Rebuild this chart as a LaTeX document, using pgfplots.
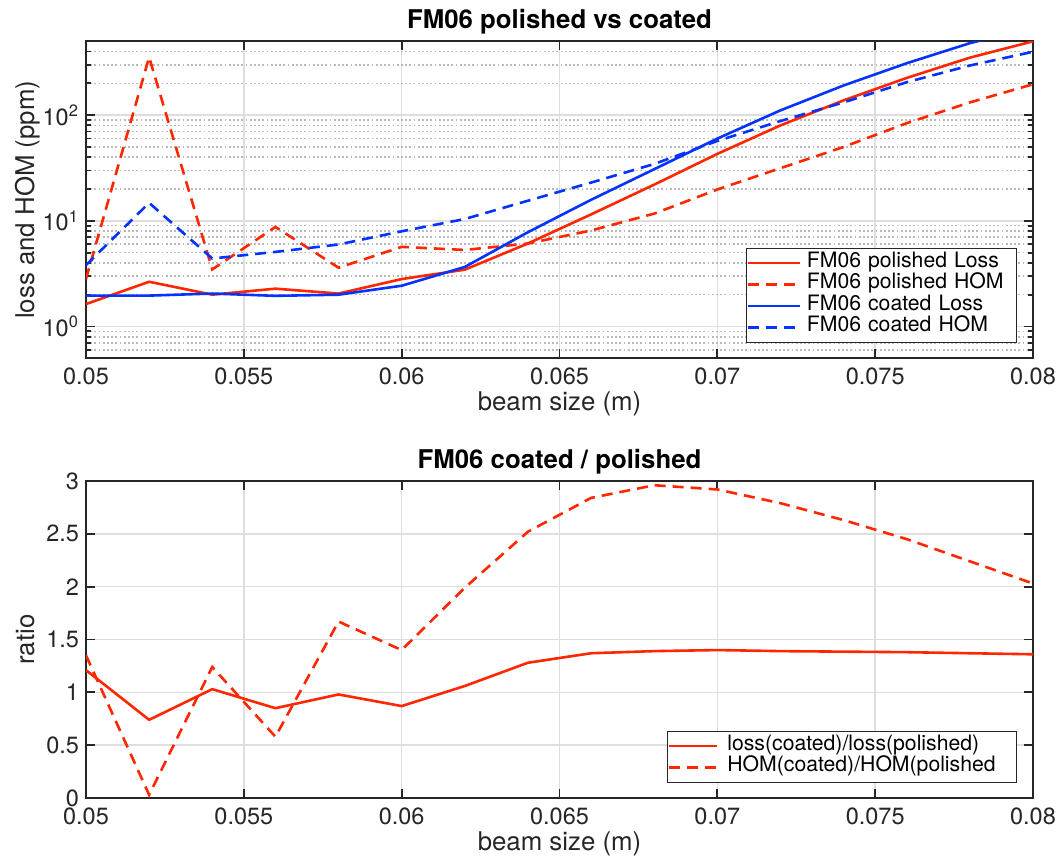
\documentclass[border=0pt]{standalone}
\usepackage{fontspec}
\setmainfont{TeX Gyre Heros}
\usepackage{pgfplots}
\pgfplotsset{compat=1.18}
\usepackage{pgfplotstable}

\definecolor{lred}{RGB}{255,38,0}
\definecolor{lblue}{RGB}{4,51,255}
\definecolor{axgray}{RGB}{38,38,38}
\definecolor{gridmaj}{RGB}{222,222,222}
\definecolor{gridmin}{RGB}{185,185,185}

% loss and HOM (ppm) versus beam size (m)
\pgfplotstableread{
x     pL    pH    cL    cH
0.050 1.63  2.82  1.96  3.81
0.052 2.65  354   1.96  14.8
0.054 2.00  3.47  2.05  4.40
0.056 2.28  8.75  1.95  5.08
0.058 2.05  3.60  2.00  5.97
0.060 2.81  5.67  2.43  7.96
0.062 3.45  5.30  3.66  10.4
0.064 6.10  6.10  7.80  15.5
0.066 11.5  8.10  15.8  23.0
0.068 22.0  11.7  30.8  34.5
0.070 43.0  19.8  60.0  57.0
0.072 80.0  31.5  111   88.0
0.074 138   50.0  191   132
0.076 225   84.0  310   205
0.078 350   132   480   295
0.080 500   196   680   398
}\lossdata

% coated / polished ratios
\pgfplotstableread{
x     rL     rH
0.050 1.21   1.35
0.052 0.74   0.03
0.054 1.03   1.24
0.056 0.85   0.58
0.058 0.98   1.67
0.060 0.87   1.40
0.062 1.06   1.99
0.064 1.28   2.52
0.066 1.37   2.84
0.068 1.39   2.96
0.070 1.40   2.92
0.072 1.39   2.79
0.074 1.385  2.63
0.076 1.38   2.45
0.078 1.37   2.24
0.080 1.36   2.03
}\ratiodata

\pgfplotsset{
  fmaxis/.style={
    scale only axis, width=473.5pt, height=158.5pt,
    xmin=0.05, xmax=0.08,
    xtick={0.05,0.055,0.06,0.065,0.07,0.075,0.08},
    xticklabels={0.05,0.055,0.06,0.065,0.07,0.075,0.08},
    scaled x ticks=false,
    axis line style={axgray, line width=0.9pt},
    tick style={axgray, line width=0.9pt},
    major tick length=4.5pt, minor tick length=2.6pt,
    tick align=inside,
    xmajorgrids, ymajorgrids,
    major grid style={gridmaj, line width=0.8pt},
    tick label style={font=\fontsize{11.75}{14}\selectfont, text=axgray},
    xticklabel style={anchor=base, yshift=-13pt},
    every axis x label/.style={at={(axis description cs:0.5,0)}, anchor=base,
      yshift=-26pt, font=\fontsize{12.9}{15}\selectfont, text=axgray},
    every axis y label/.style={at={(axis description cs:-0.0549,0.5)}, anchor=base,
      rotate=90, font=\fontsize{12.9}{15}\selectfont, text=axgray},
    every axis title/.style={at={(axis description cs:0.5,1)}, anchor=base,
      yshift=6.3pt, font=\bfseries\fontsize{12.9}{15}\selectfont},
    legend cell align=left,
  },
}

\begin{document}
\begin{tikzpicture}

% upper panel: loss and HOM, log scale
\begin{axis}[fmaxis,
  at={(43pt,249.35pt)}, anchor=south west,
  ymode=log, ymin=0.5, ymax=500,
  ytick={1,10,100},
  yticklabels={10\textsuperscript{0},10\textsuperscript{1},10\textsuperscript{2}},
  minor ytick={0.6,0.7,0.8,0.9,2,3,4,5,6,7,8,9,20,30,40,50,60,70,80,90,200,300,400},
  yminorgrids,
  minor grid style={gridmin, line width=0.8pt, dash pattern=on 0.9pt off 1.2pt},
  title={FM06 polished vs coated},
  xlabel={beam size (m)},
  ylabel={loss and HOM (ppm)},
  legend image code/.code={\draw[#1, line width=1.3pt] (4pt,0pt) -- (30pt,0pt); \path (32.8pt,0pt);},
  legend style={at={(1,0)}, anchor=south east, xshift=-8pt, yshift=7.8pt,
    draw=axgray, fill=white, inner xsep=0pt, inner ysep=2pt,
    row sep=0pt, font=\fontsize{10.6}{12}\selectfont,
    nodes={inner sep=0pt, text height=7.5pt, text depth=3.25pt,
      text width=104.85pt, align=left}},
]
\addplot[lred, line width=1.3pt] table[x=x, y=pL] {\lossdata};
\addlegendentry{FM06 polished Loss}
\addplot[lred, line width=1.3pt, dash pattern=on 5.5pt off 3.5pt] table[x=x, y=pH] {\lossdata};
\addlegendentry{FM06 polished HOM}
\addplot[lblue, line width=1.3pt] table[x=x, y=cL] {\lossdata};
\addlegendentry{FM06 coated Loss}
\addplot[lblue, line width=1.3pt, dash pattern=on 5.5pt off 3.5pt] table[x=x, y=cH] {\lossdata};
\addlegendentry{FM06 coated HOM}
\end{axis}

% lower panel: coated / polished ratios
\begin{axis}[fmaxis,
  at={(43pt,29.5pt)}, anchor=south west,
  ymin=0, ymax=3,
  ytick={0,0.5,1,1.5,2,2.5,3},
  yticklabels={0,0.5,1,1.5,2,2.5,3},
  title={FM06 coated / polished},
  xlabel={beam size (m)},
  ylabel={ratio},
  legend image code/.code={\draw[#1, line width=1.3pt] (4.5pt,0pt) -- (28.5pt,0pt); \path (33.25pt,0pt);},
  legend style={at={(1,0)}, anchor=south east, xshift=-8pt, yshift=7.65pt,
    draw=axgray, fill=white, inner xsep=0pt, inner ysep=2pt,
    row sep=0pt, font=\fontsize{10.6}{12}\selectfont,
    nodes={inner sep=0pt, text height=7.5pt, text depth=3.25pt,
      text width=144.6pt, align=left}},
]
\addplot[lred, line width=1.3pt] table[x=x, y=rL] {\ratiodata};
\addlegendentry{loss(coated)/loss(polished)}
\addplot[lred, line width=1.3pt, dash pattern=on 5.5pt off 3.5pt] table[x=x, y=rH] {\ratiodata};
\addlegendentry{HOM(coated)/HOM(polished}
\end{axis}

\pgfresetboundingbox
\useasboundingbox (0,0) rectangle (530pt,428.5pt);
\end{tikzpicture}
\end{document}
